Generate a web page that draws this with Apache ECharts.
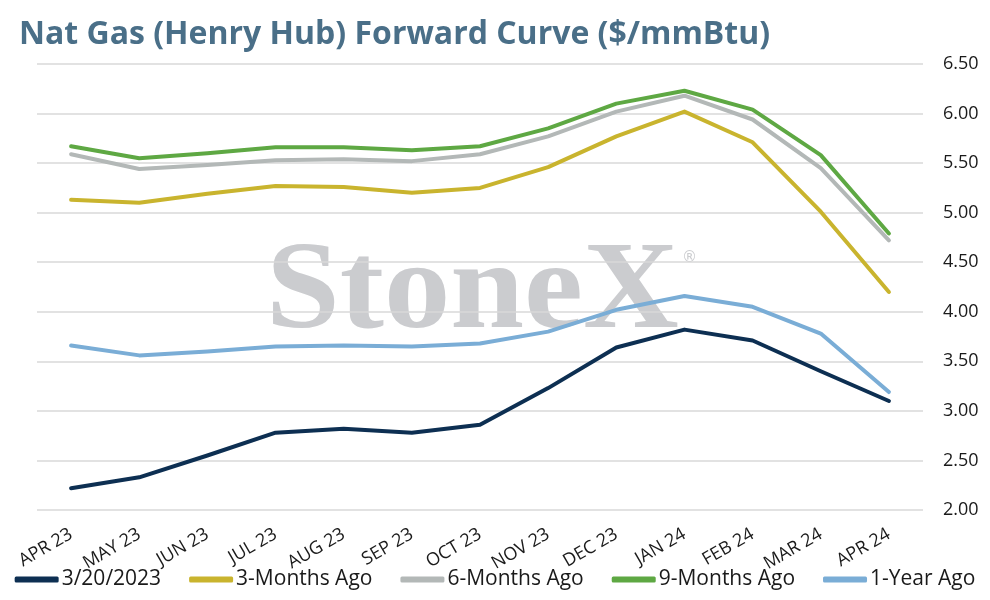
<!DOCTYPE html>
<html lang="en">
<head>
    <meta charset="UTF-8">
    <title>Nat Gas Forward Curve</title>
    <script src="https://cdn.jsdelivr.net/npm/echarts@6/dist/echarts.min.js"></script>
    <style>
        html, body { margin: 0; padding: 0; background: #fff; }
        #main { width: 990px; height: 600px; }
    </style>
</head>
<body>
<div id="main"></div>
<script type="text/javascript">
    // contract months
    var months = ['APR 23', 'MAY 23', 'JUN 23', 'JUL 23', 'AUG 23', 'SEP 23', 'OCT 23',
        'NOV 23', 'DEC 23', 'JAN 24', 'FEB 24', 'MAR 24', 'APR 24'];

    // curves ($/mmBtu)
    var curveNow = [2.22, 2.33, 2.55, 2.78, 2.82, 2.78, 2.86, 3.23, 3.64, 3.82, 3.71, 3.40, 3.10];
    var curve3m = [5.13, 5.10, 5.19, 5.27, 5.26, 5.20, 5.25, 5.46, 5.77, 6.02, 5.71, 5.01, 4.20];
    var curve6m = [5.59, 5.44, 5.48, 5.53, 5.54, 5.52, 5.59, 5.77, 6.02, 6.18, 5.94, 5.45, 4.72];
    var curve9m = [5.67, 5.55, 5.60, 5.66, 5.66, 5.63, 5.67, 5.85, 6.10, 6.23, 6.04, 5.58, 4.79];
    var curve1y = [3.66, 3.56, 3.60, 3.65, 3.66, 3.65, 3.68, 3.80, 4.02, 4.16, 4.05, 3.78, 3.19];

    var seriesNames = ['3/20/2023', '3-Months Ago', '6-Months Ago', '9-Months Ago', '1-Year Ago'];
    var seriesData = [curveNow, curve3m, curve6m, curve9m, curve1y];
    var colors = ['#0d2f52', '#c9b42e', '#b3b8b7', '#5ea843', '#7aadd6'];

    var myChart = echarts.init(document.getElementById('main'));

    var series = [];
    // draw order: dark & blue on top like the original
    [3, 2, 1, 4, 0].forEach(function (i) {
        series.push({
            name: seriesNames[i],
            type: 'line',
            data: seriesData[i],
            symbol: 'none',
            lineStyle: {width: 4, color: colors[i], cap: 'round', join: 'round'},
            itemStyle: {color: colors[i]},
            z: 3
        });
    });

    var option = {
        animation: false,
        color: colors,
        title: {
            text: 'Nat Gas (Henry Hub) Forward Curve ($/mmBtu)',
            left: 14,
            top: 14,
            textStyle: {
                fontFamily: 'Open Sans',
                fontWeight: 'bold',
                fontSize: 32,
                color: '#4a6f88'
            }
        },
        graphic: [{
            type: 'text',
            left: 266,
            top: 233,
            z: 0,
            scaleX: 1.07,
            style: {
                text: 'StoneX',
                font: 'bold 124px "Liberation Serif"',
                fill: '#cbcccf'
            }
        }, {
            type: 'text',
            left: 682,
            top: 251,
            z: 0,
            style: {
                text: '®',
                font: '15px "DejaVu Sans"',
                fill: '#cbcccf'
            }
        }],
        legend: {
            data: seriesNames,
            bottom: 5,
            left: 'center',
            itemWidth: 44,
            itemHeight: 6,
            itemGap: 28,
            icon: 'roundRect',
            textStyle: {fontFamily: 'Open Sans', fontSize: 21, color: '#1a1a1a', padding: [0, 0, 0, -2]}
        },
        grid: {left: 37, right: 67, top: 64, bottom: 90},
        xAxis: {
            type: 'category',
            data: months,
            boundaryGap: true,
            axisLine: {show: false},
            axisTick: {show: false},
            axisLabel: {
                rotate: 30,
                margin: 23,
                fontFamily: 'Open Sans',
                fontSize: 18,
                color: '#1a1a1a',
                interval: 0
            }
        },
        yAxis: {
            type: 'value',
            position: 'right',
            min: 2,
            max: 6.5,
            interval: 0.5,
            axisLine: {show: false},
            axisTick: {show: false},
            axisLabel: {
                margin: 20,
                fontFamily: 'Open Sans',
                fontSize: 18,
                color: '#1a1a1a',
                formatter: function (v) { return v.toFixed(2); }
            },
            splitLine: {lineStyle: {color: '#d9d9d9', width: 1.5}}
        },
        series: series
    };

    myChart.setOption(option);
</script>
</body>
</html>
